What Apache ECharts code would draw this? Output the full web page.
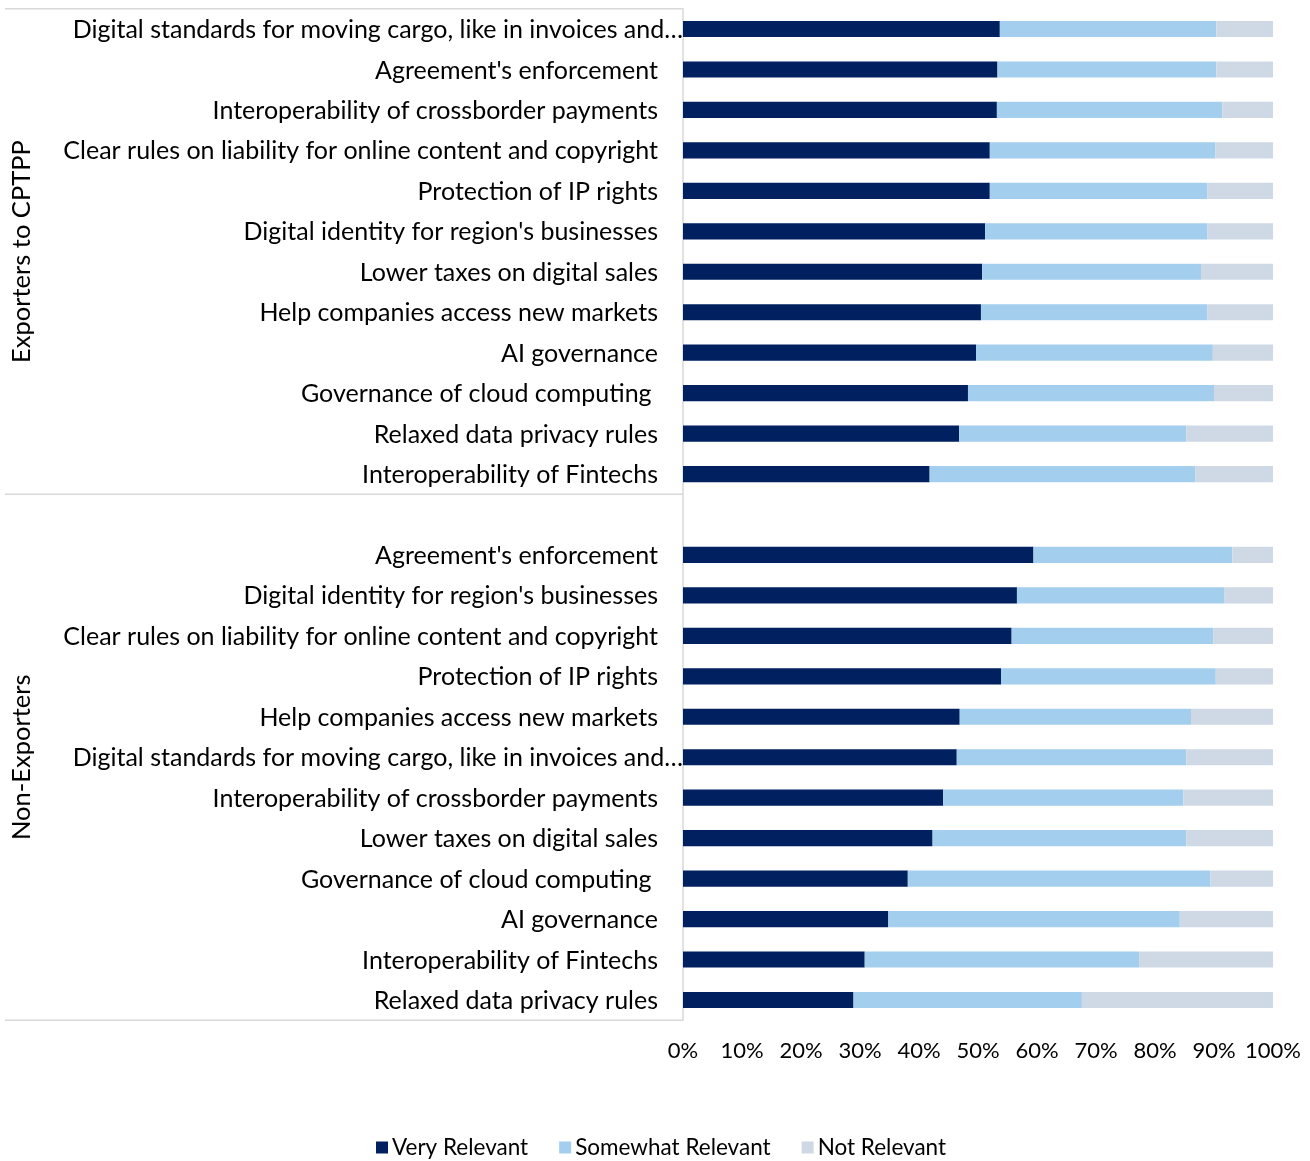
<!DOCTYPE html>
<html>
<head>
<meta charset="utf-8">
<title>Relevance of digital trade provisions</title>
<script src="https://cdn.jsdelivr.net/npm/echarts@6/dist/echarts.min.js"></script>
<style>
  html, body { margin: 0; padding: 0; background: #ffffff; }
  #chart { width: 1310px; height: 1161px; }
</style>
</head>
<body>
<div id="chart"></div>
<script>
// Group headings (drawn rotated on the far left)
const groups = ['Exporters to CPTPP', 'Non-Exporters'];

// Categories per group, top to bottom
const exporterTopics = [
  'Digital standards for moving cargo, like in invoices and\u2026',
  "Agreement's enforcement",
  'Interoperability of crossborder payments',
  'Clear rules on liability for online content and copyright',
  'Protection of IP rights',
  "Digital identity for region's businesses",
  'Lower taxes on digital sales',
  'Help companies access new markets',
  'AI governance',
  'Governance of cloud computing ',
  'Relaxed data privacy rules',
  'Interoperability of Fintechs'
];
const nonExporterTopics = [
  "Agreement's enforcement",
  "Digital identity for region's businesses",
  'Clear rules on liability for online content and copyright',
  'Protection of IP rights',
  'Help companies access new markets',
  'Digital standards for moving cargo, like in invoices and\u2026',
  'Interoperability of crossborder payments',
  'Lower taxes on digital sales',
  'Governance of cloud computing ',
  'AI governance',
  'Interoperability of Fintechs',
  'Relaxed data privacy rules'
];

// Shares of respondents (%), same order as the topic lists
const exporterVery     = [53.7, 53.3, 53.2, 52.0, 52.0, 51.2, 50.7, 50.5, 49.7, 48.3, 46.8, 41.8];
const exporterSomewhat = [36.7, 37.1, 38.2, 38.2, 36.9, 37.7, 37.1, 38.4, 40.1, 41.7, 38.5, 45.0];
const exporterNot      = [ 9.6,  9.6,  8.6,  9.8, 11.1, 11.1, 12.2, 11.1, 10.2, 10.0, 14.7, 13.2];

const nonExporterVery     = [59.4, 56.6, 55.7, 53.9, 46.9, 46.4, 44.1, 42.3, 38.1, 34.8, 30.8, 28.9];
const nonExporterSomewhat = [33.7, 35.2, 34.2, 36.4, 39.2, 38.9, 40.7, 43.0, 51.3, 49.4, 46.5, 38.7];
const nonExporterNot      = [ 6.9,  8.2, 10.1,  9.7, 13.9, 14.7, 15.2, 14.7, 10.6, 15.8, 22.7, 32.4];

const xTicks = [0, 10, 20, 30, 40, 50, 60, 70, 80, 90, 100];
const seriesNames = ['Very Relevant', 'Somewhat Relevant', 'Not Relevant'];
const colors = ['#002060', '#A3CEED', '#CED9E5'];

const FONT = 'Lato, "Open Sans", sans-serif';

// One shared category axis: exporters, an empty spacer slot, then non-exporters.
// Each slot gets a unique key so repeated topic names stay distinct.
const slots = [];
exporterTopics.forEach((t, i) => slots.push({ key: 'e' + i, label: t }));
slots.push({ key: 'gap', label: '' });
nonExporterTopics.forEach((t, i) => slots.push({ key: 'n' + i, label: t }));
const slotKeys = slots.map(s => s.key);
const slotLabels = {};
slots.forEach(s => { slotLabels[s.key] = s.label; });

function joinGroups(a, b) { return a.concat([null], b); }
const seriesValues = [
  joinGroups(exporterVery, nonExporterVery),
  joinGroups(exporterSomewhat, nonExporterSomewhat),
  joinGroups(exporterNot, nonExporterNot)
];

const chart = echarts.init(document.getElementById('chart'), null, { renderer: 'canvas' });

const option = {
  backgroundColor: '#ffffff',
  animation: false,
  textStyle: { fontFamily: FONT },
  grid: { left: 683, right: 37, top: 8.8, bottom: 140.8, containLabel: false },
  legend: {
    bottom: 2,
    left: 376,
    padding: 0,
    icon: 'rect',
    itemWidth: 12,
    itemHeight: 12,
    itemGap: 31,
    textStyle: { fontFamily: FONT, fontSize: 22.5, color: '#000000', padding: [0, 0, 0, -1] },
    data: seriesNames
  },
  xAxis: {
    type: 'value',
    min: 0,
    max: 100,
    interval: 10,
    axisLine: { show: false },
    axisTick: { show: false },
    splitLine: { show: false },
    axisLabel: {
      margin: 20,
      fontFamily: FONT,
      fontSize: 22,
      color: '#000000',
      customValues: xTicks,
      formatter: v => v + '%'
    }
  },
  yAxis: {
    type: 'category',
    inverse: true,
    data: slotKeys,
    axisLine: { show: true, lineStyle: { color: '#D9D9D9', width: 1.5 } },
    axisTick: { show: false },
    axisLabel: {
      interval: 0,
      margin: 25,
      fontFamily: FONT,
      fontSize: 25,
      color: '#000000',
      padding: [2, 0, 0, 0],
      // Truncated labels run right up to the axis line
      formatter: k => {
        const s = slotLabels[k];
        return s.endsWith('\u2026') ? '{cut|' + s + '}' : s;
      },
      rich: {
        cut: { fontFamily: FONT, fontSize: 25, color: '#000000', padding: [0, -25, 0, 0] }
      }
    }
  },
  series: seriesNames.map((name, i) => ({
    name: name,
    type: 'bar',
    stack: 'share',
    barCategoryGap: '60%',
    itemStyle: { color: colors[i] },
    emphasis: { disabled: true },
    data: seriesValues[i]
  }))
};

chart.setOption(option);

// Group separators and rotated group headings, placed from the category scale.
function drawGroupFrame() {
  const yOf = idx => chart.convertToPixel({ yAxisIndex: 0 }, slotKeys[idx]);
  const step = yOf(1) - yOf(0);
  const axisX = chart.convertToPixel({ xAxisIndex: 0 }, 0);
  const top = yOf(0) - step / 2;
  const mid = yOf(exporterTopics.length - 1) + step / 2;
  const bottom = yOf(slotKeys.length - 1) + step / 2;
  const lineStyle = { stroke: '#D9D9D9', lineWidth: 1.5 };
  const hLine = y => ({
    type: 'line', silent: true,
    shape: { x1: 5, y1: y, x2: axisX, y2: y },
    style: lineStyle
  });
  const heading = (text, y) => ({
    type: 'text', silent: true,
    x: 22, y: y, rotation: Math.PI / 2,
    style: {
      text: text, fontFamily: FONT, fontSize: 25.5, fill: '#000000',
      align: 'center', verticalAlign: 'middle'
    }
  });
  chart.setOption({
    graphic: [
      hLine(top), hLine(mid), hLine(bottom),
      heading(groups[0], (top + mid) / 2),
      heading(groups[1], (mid + bottom) / 2)
    ]
  });
}
drawGroupFrame();
</script>
</body>
</html>
